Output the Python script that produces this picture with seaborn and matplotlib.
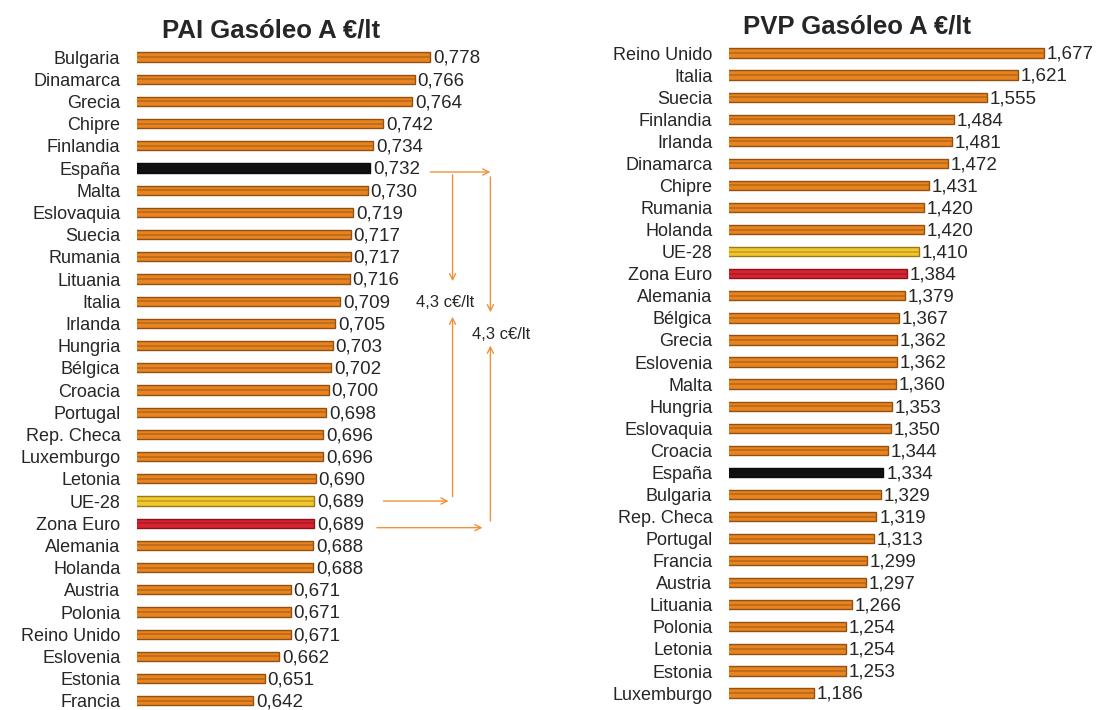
import matplotlib
matplotlib.use('Agg')
import matplotlib.pyplot as plt
import matplotlib.colors as mcolors
import pandas as pd
import seaborn as sns

# datos
pai_paises = ['Bulgaria', 'Dinamarca', 'Grecia', 'Chipre', 'Finlandia', 'España', 'Malta',
              'Eslovaquia', 'Suecia', 'Rumania', 'Lituania', 'Italia', 'Irlanda', 'Hungria',
              'Bélgica', 'Croacia', 'Portugal', 'Rep. Checa', 'Luxemburgo', 'Letonia', 'UE-28',
              'Zona Euro', 'Alemania', 'Holanda', 'Austria', 'Polonia', 'Reino Unido',
              'Eslovenia', 'Estonia', 'Francia']
pai_valores = [0.778, 0.766, 0.764, 0.742, 0.734, 0.732, 0.730, 0.719, 0.717, 0.717, 0.716,
               0.709, 0.705, 0.703, 0.702, 0.700, 0.698, 0.696, 0.696, 0.690, 0.689, 0.689,
               0.688, 0.688, 0.671, 0.671, 0.671, 0.662, 0.651, 0.642]

pvp_paises = ['Reino Unido', 'Italia', 'Suecia', 'Finlandia', 'Irlanda', 'Dinamarca', 'Chipre',
              'Rumania', 'Holanda', 'UE-28', 'Zona Euro', 'Alemania', 'Bélgica', 'Grecia',
              'Eslovenia', 'Malta', 'Hungria', 'Eslovaquia', 'Croacia', 'España', 'Bulgaria',
              'Rep. Checa', 'Portugal', 'Francia', 'Austria', 'Lituania', 'Polonia', 'Letonia',
              'Estonia', 'Luxemburgo']
pvp_valores = [1.677, 1.621, 1.555, 1.484, 1.481, 1.472, 1.431, 1.420, 1.420, 1.410, 1.384,
               1.379, 1.367, 1.362, 1.362, 1.360, 1.353, 1.350, 1.344, 1.334, 1.329, 1.319,
               1.313, 1.299, 1.297, 1.266, 1.254, 1.254, 1.253, 1.186]

diferencia_txt = '4,3 c€/lt'

paleta = {'otro': '#E8831F', 'España': '#111111', 'UE-28': '#F3C62C', 'Zona Euro': '#D8222F'}
flecha_color = '#F2913A'

sns.set_style('white')
plt.rcParams['font.family'] = ['Liberation Sans', 'DejaVu Sans']

W, H = 1098, 710
fig = plt.figure(figsize=(W / 100, H / 100), dpi=100)


def grupo(p):
    return p if p in paleta else 'otro'


def barras(ax, paises, valores, xmin, px_unidad, ancho_px):
    df = pd.DataFrame({'pais': paises, 'valor': valores})
    df['grupo'] = [grupo(p) for p in paises]
    sns.barplot(data=df, x='valor', y='pais', hue='grupo', palette=paleta, dodge=False,
                legend=False, width=0.42, saturation=1, ax=ax)
    for patch in ax.patches:
        fc = mcolors.to_rgb(patch.get_facecolor())
        patch.set_edgecolor([c * 0.62 for c in fc])
        patch.set_linewidth(1.0)
    # franja central mas oscura (efecto cilindro)
    oscuro = [[c * 0.82 for c in mcolors.to_rgb(paleta[grupo(p)])] for p in paises]
    ax.hlines(range(len(valores)), xmin, valores, colors=oscuro, lw=1.3, zorder=3)
    for i, v in enumerate(valores):
        ax.annotate(f'{v:.3f}'.replace('.', ','), xy=(v, i), xytext=(2, -1),
                    textcoords='offset points', ha='left', va='center', fontsize=13.5)
    ax.set_xlim(xmin, xmin + ancho_px / px_unidad)
    ax.set_ylim(29.4, -0.5)
    ax.set_xlabel('')
    ax.set_ylabel('')
    ax.set_xticks([])
    ax.tick_params(axis='y', length=0, pad=12, labelsize=13)
    sns.despine(ax=ax, left=True, bottom=True)
    ax.patch.set_alpha(0)


# panel izquierdo: PAI
ax1 = fig.add_axes([137 / W, 0.0004, 408 / W, 663.8 / H])
barras(ax1, pai_paises, pai_valores, 0.553, 1304, 408)

# panel derecho: PVP
ax2 = fig.add_axes([729 / W, 8.1 / H, 369 / W, 659.9 / H])
barras(ax2, pvp_paises, pvp_valores, 1.004, 468, 369)

fig.text(271 / W, 1 - 31 / H, 'PAI Gasóleo A €/lt', ha='center', va='center',
         fontsize=18.5, fontweight='bold')
fig.text(857 / W, 1 - 26 / H, 'PVP Gasóleo A €/lt', ha='center', va='center',
         fontsize=18.5, fontweight='bold')

# flechas de diferencia España vs UE-28 / Zona Euro
i_esp = pai_paises.index('España')
i_ue = pai_paises.index('UE-28')
i_ze = pai_paises.index('Zona Euro')
ap = dict(arrowstyle='->', color=flecha_color, lw=1, shrinkA=0, shrinkB=0, mutation_scale=11)


def flecha(x0, y0, x1, y1):
    ax1.annotate('', xy=(x1, y1), xytext=(x0, y0), arrowprops=ap, annotation_clip=False)


flecha(0.778, i_esp + 0.18, 0.824, i_esp + 0.18)
flecha(0.795, i_esp + 0.3, 0.795, i_esp + 5.1)
flecha(0.795, i_ue - 0.2, 0.795, i_esp + 6.7)
flecha(0.742, i_ue, 0.792, i_ue)
ax1.text(0.789, i_esp + 6.04, diferencia_txt, ha='center', va='center', fontsize=12)

flecha(0.824, i_esp + 0.4, 0.824, i_esp + 6.5)
flecha(0.824, i_ze - 0.1, 0.824, i_esp + 8.0)
flecha(0.737, i_ze + 0.2, 0.818, i_ze + 0.2)
ax1.text(0.832, i_esp + 7.48, diferencia_txt, ha='center', va='center', fontsize=12)

fig.savefig('out.png', dpi=100)
